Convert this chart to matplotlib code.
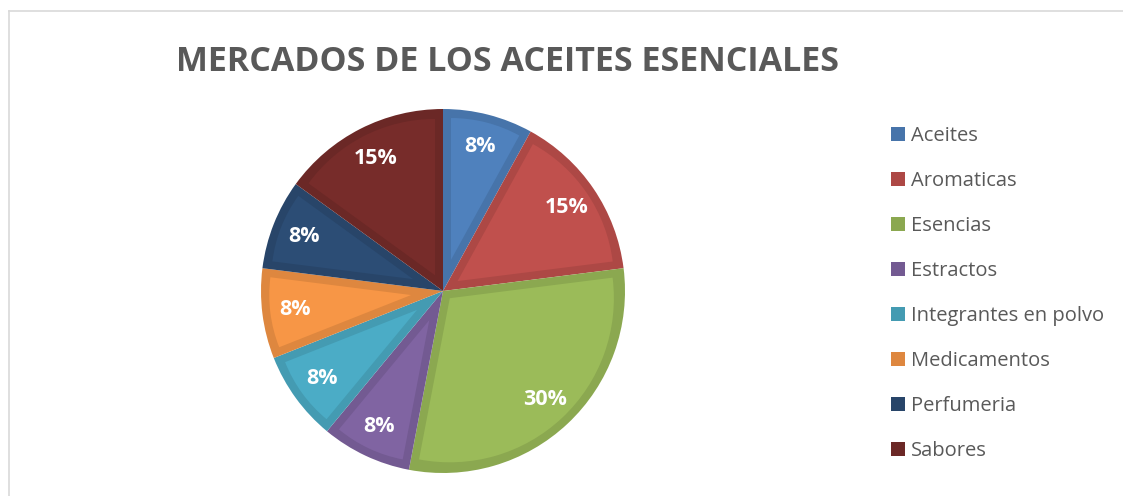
import numpy as np
import matplotlib.pyplot as plt
from matplotlib.lines import Line2D
from matplotlib.patches import Patch, Wedge
import matplotlib.colors as mcolors

categorias = ['Aceites', 'Aromaticas', 'Esencias', 'Estractos',
              'Integrantes en polvo', 'Medicamentos', 'Perfumeria', 'Sabores']
porcentajes = [8, 15, 30, 8, 8, 8, 8, 15]
colores = ['#4F81BD', '#C0504D', '#9BBB59', '#8064A2',
           '#4BACC6', '#F79646', '#2C4D75', '#772C2A']


def oscurecer(c, f=0.9):
    r, g, b = mcolors.to_rgb(c)
    return (r * f, g * f, b * f)


bordes = [oscurecer(c) for c in colores]

W, H = 1123, 496
fig = plt.figure(figsize=(W / 100, H / 100), dpi=100)
fig.patch.set_facecolor('white')

# pie centred at (443, 291) px, radius ~182 px
cx, cy, r = 443, 291, 182
ax = fig.add_axes([(cx - r) / W, (H - cy - r) / H, 2 * r / W, 2 * r / H])

# outer layer in the darker shade
wedges, textos, autotextos = ax.pie(
    porcentajes, colors=bordes, startangle=90, counterclock=False,
    autopct='%d%%', pctdistance=0.82,
    wedgeprops=dict(linewidth=0),
    textprops=dict(color='white', fontsize=15.5, fontweight='bold',
                   family='Open Sans'))

# inner lighter fill, inset by a band of ~8 px
d = 8 / r
for w, c in zip(wedges, colores):
    t1, t2 = w.theta1, w.theta2
    mid = np.deg2rad((t1 + t2) / 2)
    half = np.deg2rad((t2 - t1) / 2)
    off = d / np.sin(min(half, np.pi / 2))
    centro = (off * np.cos(mid), off * np.sin(mid))
    ax.add_patch(Wedge(centro, 1 - d - off, t1, t2, facecolor=c,
                       edgecolor='none', zorder=w.get_zorder() + 0.1))
for t in autotextos:
    t.set_zorder(5)

ax.set_xlim(-1, 1)
ax.set_ylim(-1, 1)
ax.set_aspect('equal')

# title
fig.text(507 / W, 1 - 62 / H, 'MERCADOS DE LOS ACEITES ESENCIALES',
         ha='center', va='center', fontsize=24.5, fontweight='bold',
         color='#595959', family='Open Sans')

# legend
handles = [Patch(facecolor=b, edgecolor='none') for b in bordes]
leg = fig.legend(handles, categorias, loc='upper left',
                 bbox_to_anchor=(873 / W, 1 - 108 / H), frameon=False,
                 fontsize=14.5, handlelength=0.7, handleheight=0.7,
                 handletextpad=0.3, labelspacing=1.24)
for t in leg.get_texts():
    t.set_color('#595959')
    t.set_family('Open Sans')

# chart area border (top and left visible)
fig.add_artist(Line2D([9 / W, 1], [1 - 11 / H, 1 - 11 / H],
                      transform=fig.transFigure, color='#D9D9D9', lw=1.2))
fig.add_artist(Line2D([9 / W, 9 / W], [0, 1 - 11 / H],
                      transform=fig.transFigure, color='#D9D9D9', lw=1.2))

fig.savefig('out.png', dpi=100)
